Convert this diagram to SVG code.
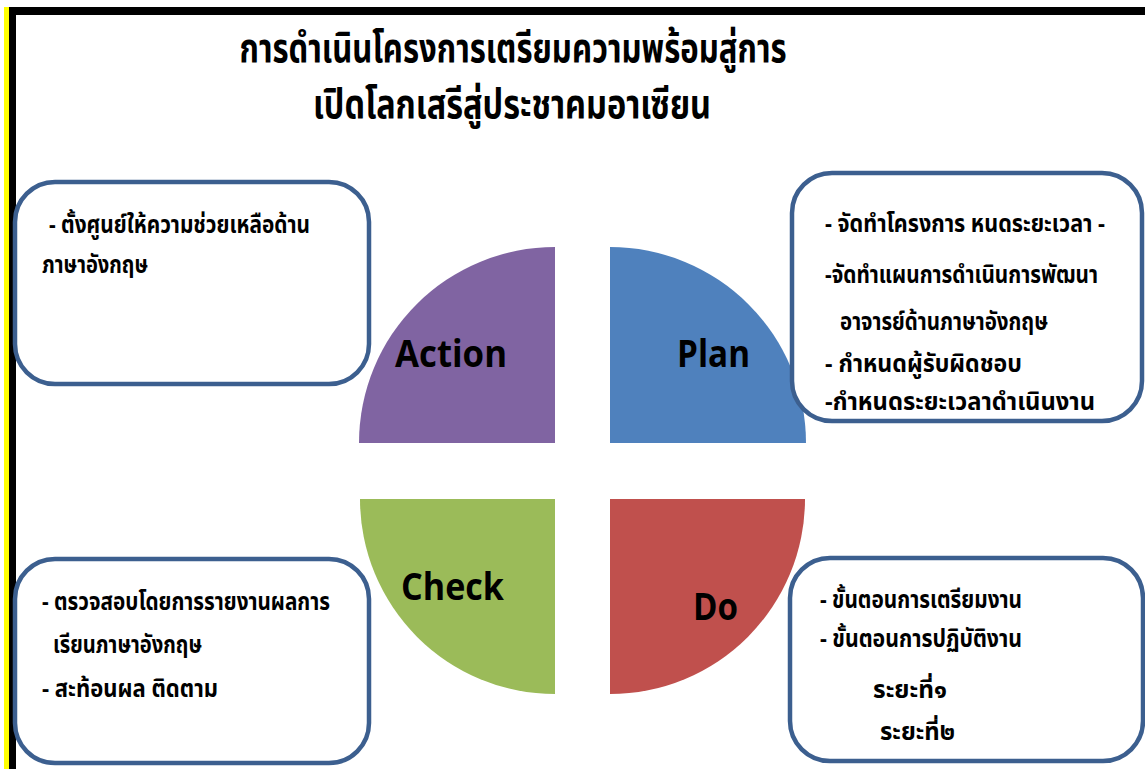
<svg xmlns="http://www.w3.org/2000/svg" width="1145" height="769" viewBox="0 0 1145 769">
<style>
.th{font-family:"Noto Sans Thai","Noto Serif Thai","Noto Sans","DejaVu Sans",sans-serif;font-weight:bold;fill:#000}
.tt{font-size:41px}
.bx{font-size:24px}
.box{fill:#fff;stroke:#3C5F8F;stroke-width:4.5}
.lbl{font-family:"Open Sans","Liberation Sans",Arial,sans-serif;font-weight:bold;font-size:37px;fill:#000}
</style>
<rect x="0" y="0" width="1145" height="769" fill="#fff"/>
<g id="frame">
<rect x="4" y="7" width="5" height="762" fill="#FFFF00"/>
<rect x="9" y="7" width="1136" height="8" fill="#000"/>
<rect x="9" y="7" width="7" height="762" fill="#000"/>
</g>
<g id="title">
<text class="th tt" x="513" y="62" text-anchor="middle" textLength="547" lengthAdjust="spacingAndGlyphs">การดำเนินโครงการเตรียมความพร้อมสู่การ</text>
<text class="th tt" x="512" y="118" text-anchor="middle" textLength="398" lengthAdjust="spacingAndGlyphs">เปิดโลกเสรีสู่ประชาคมอาเซียน</text>
</g>
<g id="action">
<path d="M555,247 A196,196 0 0 0 359,443 L555,443 Z" fill="#8064A2"/>
<text class="lbl" x="395" y="367" textLength="112" lengthAdjust="spacingAndGlyphs">Action</text>
</g>
<g id="plan">
<path d="M610,247 A196,196 0 0 1 806,443 L610,443 Z" fill="#4F81BD"/>
<text class="lbl" x="677" y="367" textLength="73" lengthAdjust="spacingAndGlyphs">Plan</text>
</g>
<g id="check">
<path d="M555,694 A195,195 0 0 1 360,499 L555,499 Z" fill="#9BBB59"/>
<text class="lbl" x="401" y="600" textLength="103" lengthAdjust="spacingAndGlyphs">Check</text>
</g>
<g id="do">
<path d="M610,694 A195,195 0 0 0 805,499 L610,499 Z" fill="#C0504D"/>
<text class="lbl" x="693" y="620" textLength="45" lengthAdjust="spacingAndGlyphs">Do</text>
</g>
<g id="box-action">
<rect class="box" x="15" y="182" width="354" height="202" rx="40"/>
<text class="th bx" x="49" y="233" textLength="261" lengthAdjust="spacingAndGlyphs">- ตั้งศูนย์ให้ความช่วยเหลือด้าน</text>
<text class="th bx" x="42" y="273" textLength="106" lengthAdjust="spacingAndGlyphs">ภาษาอังกฤษ</text>
</g>
<g id="box-plan">
<rect class="box" x="792" y="173" width="350" height="248" rx="40"/>
<text class="th bx" x="825" y="232" textLength="280" lengthAdjust="spacingAndGlyphs">- จัดทำโครงการ หนดระยะเวลา -</text>
<text class="th bx" x="825" y="283" textLength="273" lengthAdjust="spacingAndGlyphs">-จัดทำแผนการดำเนินการพัฒนา</text>
<text class="th bx" x="840" y="330" textLength="208" lengthAdjust="spacingAndGlyphs">อาจารย์ด้านภาษาอังกฤษ</text>
<text class="th bx" x="825" y="372" textLength="197" lengthAdjust="spacingAndGlyphs">- กำหนดผู้รับผิดชอบ</text>
<text class="th bx" x="825" y="410" textLength="270" lengthAdjust="spacingAndGlyphs">-กำหนดระยะเวลาดำเนินงาน</text>
</g>
<g id="box-check">
<rect class="box" x="15" y="559" width="354" height="204" rx="40"/>
<text class="th bx" x="42" y="610" textLength="288" lengthAdjust="spacingAndGlyphs">- ตรวจสอบโดยการรายงานผลการ</text>
<text class="th bx" x="53" y="653" textLength="149" lengthAdjust="spacingAndGlyphs">เรียนภาษาอังกฤษ</text>
<text class="th bx" x="42" y="697" textLength="176" lengthAdjust="spacingAndGlyphs">- สะท้อนผล  ติดตาม</text>
</g>
<g id="box-do">
<rect class="box" x="790" y="558" width="353" height="203" rx="40"/>
<text class="th bx" x="820" y="608" textLength="202" lengthAdjust="spacingAndGlyphs">- ขั้นตอนการเตรียมงาน</text>
<text class="th bx" x="820" y="647" textLength="202" lengthAdjust="spacingAndGlyphs">- ขั้นตอนการปฏิบัติงาน</text>
<text class="th bx" x="873" y="698" textLength="74" lengthAdjust="spacingAndGlyphs">ระยะที่๑</text>
<text class="th bx" x="880" y="740" textLength="75" lengthAdjust="spacingAndGlyphs">ระยะที่๒</text>
</g>
</svg>
